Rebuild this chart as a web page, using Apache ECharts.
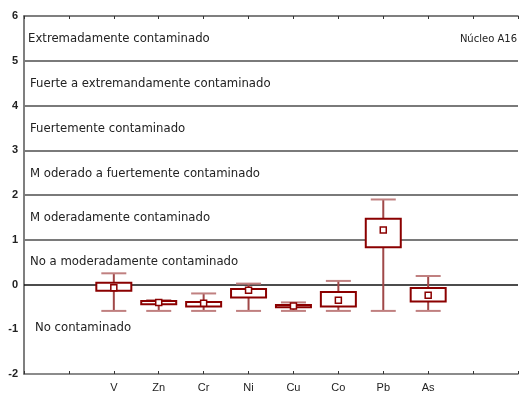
<!DOCTYPE html>
<html>
<head>
<meta charset="utf-8">
<script src="https://cdn.jsdelivr.net/npm/echarts@6/dist/echarts.min.js"></script>
<style>
    html, body {margin: 0; padding: 0; background: #fff;}
    #chartDiv {width: 521px; height: 393px;}
</style>
</head>
<body>
<div id="chartDiv"></div>
<script>
// 数据
var xCategories = ['', '', 'V', 'Zn', 'Cr', 'Ni', 'Cu', 'Co', 'Pb', 'As', '', ''];
var elements = ['V', 'Zn', 'Cr', 'Ni', 'Cu', 'Co', 'Pb', 'As'];
var whiskerMin = [-0.59, -0.59, -0.59, -0.59, -0.59, -0.59, -0.59, -0.59];
var boxLow = [-0.14, -0.44, -0.49, -0.29, -0.51, -0.49, 0.83, -0.38];
var means = [-0.07, -0.40, -0.42, -0.13, -0.48, -0.35, 1.22, -0.24];
var boxHigh = [0.04, -0.37, -0.39, -0.10, -0.46, -0.17, 1.47, -0.08];
var whiskerMax = [0.25, -0.35, -0.20, 0.02, -0.40, 0.08, 1.90, 0.19];
var zoneLines = [1, 2, 3, 4, 5];
var zoneNames = ['Extremadamente contaminado', 'Fuerte a extremandamente contaminado',
    'Fuertemente contaminado', 'M oderado a fuertemente contaminado',
    'M oderadamente contaminado', 'No a moderadamente contaminado', 'No contaminado'];
var zoneLabelY = [5.48, 4.49, 3.47, 2.47, 1.48, 0.51, -0.97];
var coreName = 'Núcleo A16';

var boxColor = '#8b0000';
var whiskerColor = '#a04848';
var capColor = '#c08080';
var labelFont = '"DejaVu Sans", sans-serif';

var chartDiv = echarts.init(document.getElementById('chartDiv'));

function buildBoxData() {
    var list = [];
    for (var i = 0; i < elements.length; i++) {
        list.push([elements[i], whiskerMin[i], boxLow[i], means[i], boxHigh[i], whiskerMax[i]]);
    }
    return list;
}

/*
* 画箱线
* */
function renderBox(params, api) {
    var x = api.coord([api.value(0), 0])[0];
    var yMin = api.coord([api.value(0), api.value(1)])[1];
    var yLow = api.coord([api.value(0), api.value(2)])[1];
    var yMean = api.coord([api.value(0), api.value(3)])[1];
    var yHigh = api.coord([api.value(0), api.value(4)])[1];
    var yMax = api.coord([api.value(0), api.value(5)])[1];
    var boxW = 35, capW = 25, m = 6;
    return {
        type: 'group',
        children: [
            {type: 'line', shape: {x1: x, y1: yMax, x2: x, y2: yHigh}, style: {stroke: whiskerColor, lineWidth: 2}},
            {type: 'line', shape: {x1: x, y1: yLow, x2: x, y2: yMin}, style: {stroke: whiskerColor, lineWidth: 2}},
            {type: 'line', shape: {x1: x - capW / 2, y1: yMax, x2: x + capW / 2, y2: yMax}, style: {stroke: capColor, lineWidth: 2}},
            {type: 'line', shape: {x1: x - capW / 2, y1: yMin, x2: x + capW / 2, y2: yMin}, style: {stroke: capColor, lineWidth: 2}},
            {type: 'rect', shape: {x: x - boxW / 2, y: yHigh, width: boxW, height: yLow - yHigh},
                style: {fill: '#fff', stroke: boxColor, lineWidth: 2}},
            {type: 'rect', shape: {x: x - m / 2, y: yMean - m / 2, width: m, height: m},
                style: {fill: '#fff', stroke: boxColor, lineWidth: 1.5}}
        ]
    };
}

var option = {
    animation: false,
    grid: {left: 24, right: -2, top: 16, bottom: 13},
    xAxis: [
        {
            type: 'category',
            data: xCategories,
            boundaryGap: false,
            axisLine: {onZero: false, lineStyle: {color: '#666', width: 1.5}},
            axisTick: {inside: true, length: 3, lineStyle: {color: '#333'}},
            axisLabel: {margin: 8, fontSize: 11, color: '#222', fontFamily: '"Liberation Sans", sans-serif'},
            splitLine: {show: false}
        },
        {
            type: 'category',
            data: xCategories,
            boundaryGap: false,
            position: 'top',
            axisLine: {onZero: false, lineStyle: {color: '#555', width: 1.5}},
            axisTick: {inside: true, length: 3, lineStyle: {color: '#333'}},
            axisLabel: {show: false},
            splitLine: {show: false}
        }
    ],
    yAxis: {
        type: 'value',
        min: -2,
        max: 6,
        interval: 1,
        axisLine: {show: true, lineStyle: {color: '#555', width: 1.5}},
        axisTick: {show: false},
        axisLabel: {
            margin: 6, fontSize: 11, color: '#222', fontWeight: 'bold',
            fontFamily: '"Liberation Sans", sans-serif'
        },
        splitLine: {show: false}
    },
    series: [
        {
            type: 'line',
            data: [],
            markLine: {
                silent: true,
                symbol: 'none',
                label: {show: false},
                data: zoneLines.map(function (v) {
                    return {yAxis: v, lineStyle: {color: '#7a7a7a', width: 2, type: 'solid'}};
                }).concat([{yAxis: 0, lineStyle: {color: '#111', width: 1.5, type: 'solid'}}])
            }
        },
        {
            type: 'custom',
            renderItem: renderBox,
            encode: {x: 0, y: [1, 2, 3, 4, 5]},
            data: buildBoxData(),
            z: 5
        }
    ]
};
chartDiv.setOption(option);

// 区域文字
function setupZoneLabels() {
    var items = [];
    for (var i = 0; i < zoneNames.length; i++) {
        var py = chartDiv.convertToPixel({yAxisIndex: 0}, zoneLabelY[i]);
        items.push({
            type: 'text',
            left: i === 0 ? 28 : (i === zoneNames.length - 1 ? 35 : 30),
            top: py - 6,
            style: {text: zoneNames[i], font: '11.7px ' + labelFont, fill: '#222'}
        });
    }
    items.push({
        type: 'text',
        right: 4,
        top: chartDiv.convertToPixel({yAxisIndex: 0}, 5.48) - 5,
        style: {text: coreName, font: '10px ' + labelFont, fill: '#222'}
    });
    chartDiv.setOption({graphic: items});
}
setupZoneLabels();
</script>
</body>
</html>
